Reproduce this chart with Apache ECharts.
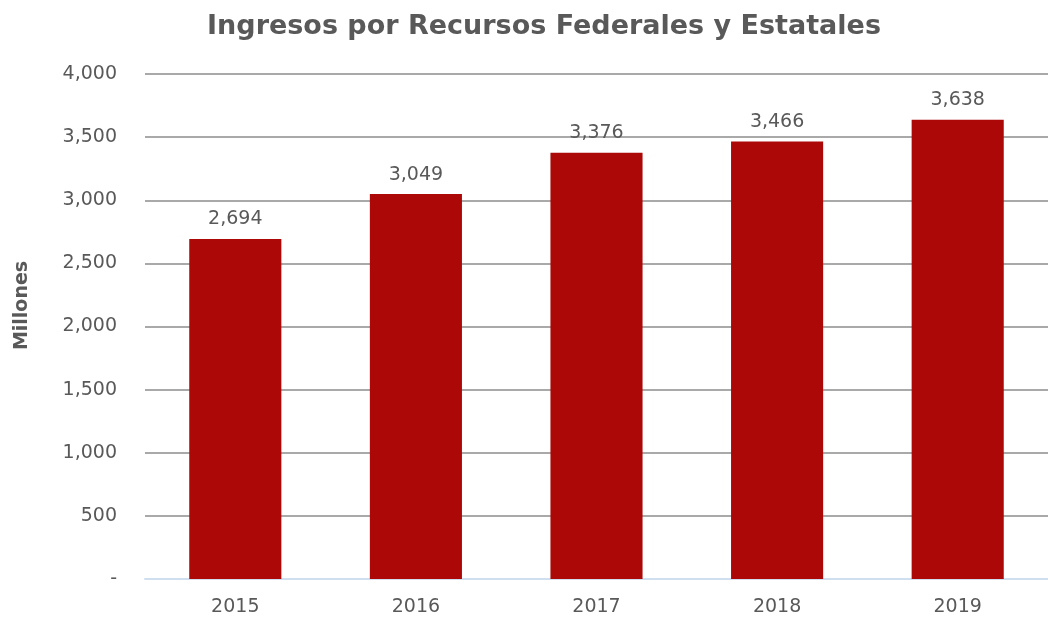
<!DOCTYPE html>
<html>
<head>
<meta charset="utf-8">
<script src="https://cdn.jsdelivr.net/npm/echarts@6/dist/echarts.min.js"></script>
<style>
  html, body { margin: 0; padding: 0; background: #fff; }
  #chart { width: 1048px; height: 622px; }
</style>
</head>
<body>
<div id="chart"></div>
<script>
const categories = ["2015", "2016", "2017", "2018", "2019"];
const ingresos = [2694, 3049, 3376, 3466, 3638];
const yTicks = [0, 500, 1000, 1500, 2000, 2500, 3000, 3500, 4000];

const fmt = (v) => v.toString().replace(/\B(?=(\d{3})+(?!\d))/g, ",");
const font = "DejaVu Sans";

const chart = echarts.init(document.getElementById("chart"));

chart.setOption({
  backgroundColor: "#fff",
  animation: false,
  title: {
    text: "Ingresos por Recursos Federales y Estatales",
    left: 539,
    textAlign: "center",
    top: 8,
    textStyle: {
      fontFamily: font,
      fontWeight: "bold",
      fontSize: 27,
      color: "#595959",
    },
  },
  grid: {
    left: 145,
    right: -4,
    top: 74,
    bottom: 43,
    containLabel: false,
  },
  xAxis: {
    type: "category",
    data: categories,
    axisLine: { lineStyle: { color: "#d0dff0", width: 2 } },
    axisTick: { show: false },
    axisLabel: {
      color: "#595959",
      fontSize: 19,
      fontFamily: font,
      margin: 19,
    },
  },
  yAxis: {
    type: "value",
    min: yTicks[0],
    max: yTicks[yTicks.length - 1],
    interval: 500,
    name: "Millones",
    nameLocation: "middle",
    nameRotate: 90,
    nameGap: 113,
    nameTextStyle: {
      color: "#595959",
      fontSize: 19,
      fontWeight: "bold",
      fontFamily: font,
      padding: [0, 0, 0, 42],
    },
    axisLine: { show: false },
    axisTick: { show: false },
    splitLine: { lineStyle: { color: "#8c8c8c", width: 1.5 } },
    axisLabel: {
      color: "#595959",
      fontSize: 19,
      fontFamily: font,
      margin: 28,
      formatter: (v) => (v === 0 ? "-" : fmt(v)),
    },
  },
  series: [
    {
      name: "Ingresos",
      type: "bar",
      data: ingresos,
      barWidth: "51%",
      itemStyle: { color: "#ad0808" },
      label: {
        show: true,
        position: "top",
        distance: 10,
        color: "#595959",
        fontSize: 19,
        fontFamily: font,
        formatter: (p) => fmt(p.value),
      },
    },
  ],
});
</script>
</body>
</html>
